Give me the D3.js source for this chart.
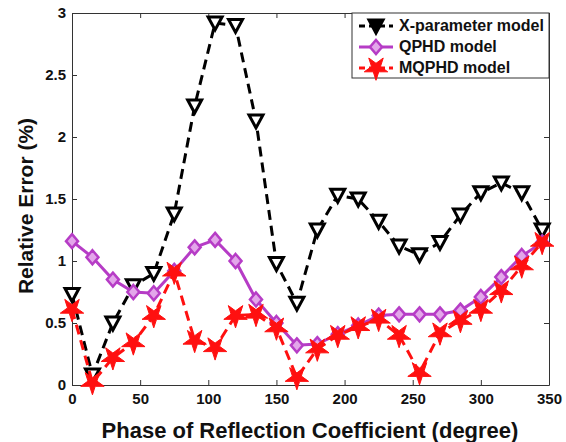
<!DOCTYPE html>
<html>
<head>
<meta charset="utf-8"/>
<script src="https://d3js.org/d3.v7.min.js"></script>
<style type="text/css">
body { margin: 0; background: #fff; }
text { font-family: Arial, "Liberation Sans", sans-serif; font-weight: bold; }
.axis path, .axis line { stroke: #333; stroke-width: 1px; }
</style>
</head>
<body>
<script>

var width = 566, height = 442;
var margin = {left: 72, right: 17, top: 13, bottom: 57};

// phase (degree)
var phase = [0, 15, 30, 45, 60, 75, 90, 105, 120, 135, 150, 165,
             180, 195, 210, 225, 240, 255, 270, 285, 300, 315, 330, 345];

var xparam = [0.73, 0.08, 0.50, 0.80, 0.90, 1.38, 2.25, 2.92, 2.90, 2.13, 0.98, 0.66,
              1.25, 1.53, 1.50, 1.32, 1.12, 1.05, 1.15, 1.37, 1.55, 1.63, 1.55, 1.25];
var qphd   = [1.16, 1.03, 0.85, 0.75, 0.74, 0.92, 1.11, 1.17, 1.00, 0.69, 0.50, 0.32,
              0.33, 0.41, 0.48, 0.56, 0.57, 0.57, 0.57, 0.60, 0.71, 0.87, 1.04, 1.15];
var mqphd  = [0.61, 0.02, 0.22, 0.34, 0.56, 0.91, 0.36, 0.30, 0.56, 0.57, 0.46, 0.06,
              0.29, 0.40, 0.47, 0.53, 0.40, 0.10, 0.42, 0.52, 0.61, 0.76, 0.96, 1.15];

var seriesNames = ["X-parameter model", "QPHD model", "MQPHD model"];
var xTicks = [0, 50, 100, 150, 200, 250, 300, 350];
var yTicks = [0, 0.5, 1, 1.5, 2, 2.5, 3];

var x = d3.scaleLinear()
    .domain([0, 350])
    .range([margin.left, width - margin.right]);

var y = d3.scaleLinear()
    .domain([0, 3])
    .range([height - margin.bottom, margin.top]);

var svg = d3.select("body").append("svg")
    .attr("width", width)
    .attr("height", height);

// axes, ticks pointing inward, box all round
svg.append("g").attr("class", "axis")
    .attr("transform", "translate(0," + y(0) + ")")
    .call(d3.axisBottom(x).tickValues(xTicks).tickSizeInner(-5).tickSizeOuter(0).tickPadding(8))
    .call(g => g.selectAll("text").attr("font-size", 15).attr("fill", "#111"));

svg.append("g").attr("class", "axis")
    .attr("transform", "translate(" + x(0) + ",0)")
    .call(d3.axisLeft(y).tickValues(yTicks).tickFormat(d3.format("")).tickSizeInner(-5).tickSizeOuter(0).tickPadding(6))
    .call(g => g.selectAll("text").attr("font-size", 15).attr("fill", "#111"));

svg.append("g").attr("class", "axis")
    .attr("transform", "translate(0," + y(3) + ")")
    .call(d3.axisTop(x).tickValues(xTicks).tickSizeInner(-5).tickSizeOuter(0).tickFormat(""));

svg.append("g").attr("class", "axis")
    .attr("transform", "translate(" + x(350) + ",0)")
    .call(d3.axisRight(y).tickValues(yTicks).tickSizeInner(-5).tickSizeOuter(0).tickFormat(""));

// axis titles
svg.append("text")
    .attr("x", 310)
    .attr("y", 438)
    .attr("text-anchor", "middle")
    .attr("font-size", 22)
    .attr("fill", "#111")
    .text("Phase of Reflection Coefficient (degree)");

svg.append("text")
    .attr("transform", "translate(33,206) rotate(-90)")
    .attr("text-anchor", "middle")
    .attr("font-size", 21)
    .attr("fill", "#111")
    .text("Relative Error (%)");

var line = d3.line()
    .x(d => x(d[0]))
    .y(d => y(d[1]));

var triangle = "M-7,-6L7,-6L0,7Z";
var diamond = "M0,-7L6,0L0,7L-6,0Z";
var star = d3.symbol().type(d3.symbolStar).size(170)();

var styles = [
  {data: xparam, color: "#000", dash: "10,6", marker: triangle, fill: "#fff", mstroke: "#000", msw: 3, rot: 0},
  {data: qphd, color: "#b63cc6", dash: null, marker: diamond, fill: "#e3a6ea", mstroke: "#b63cc6", msw: 2.5, rot: 0},
  {data: mqphd, color: "#ff1010", dash: "10,6", marker: star, fill: "#ff1010", mstroke: "#ff1010", msw: 1, rot: 180}
];

// draw the MQPHD last so its stars sit on top, like the picture
[0, 1, 2].forEach(function(i) {
  var s = styles[i];
  var pts = phase.map((p, j) => [p, s.data[j]]);
  svg.append("path")
      .datum(pts)
      .attr("fill", "none")
      .attr("stroke", s.color)
      .attr("stroke-width", 3)
      .attr("stroke-dasharray", s.dash)
      .attr("d", line);
  svg.append("g").selectAll("path")
      .data(pts)
      .enter().append("path")
      .attr("d", s.marker)
      .attr("transform", d => "translate(" + x(d[0]) + "," + y(d[1]) + ") rotate(" + s.rot + ")")
      .attr("fill", s.fill)
      .attr("stroke", s.mstroke)
      .attr("stroke-width", s.msw);
});

// legend
var lg = svg.append("g");
lg.append("rect")
    .attr("x", 352).attr("y", y(3))
    .attr("width", x(350) - 352).attr("height", 65)
    .attr("fill", "#fff").attr("stroke", "#333").attr("stroke-width", 1);

styles.forEach(function(s, i) {
  var ly = 26 + i * 21;
  lg.append("line")
      .attr("x1", 359).attr("x2", 393)
      .attr("y1", ly).attr("y2", ly)
      .attr("stroke", s.color)
      .attr("stroke-width", 3)
      .attr("stroke-dasharray", s.dash ? "6,4" : null);
  lg.append("path")
      .attr("d", s.marker)
      .attr("transform", "translate(376," + ly + ") rotate(" + s.rot + ")")
      .attr("fill", i == 0 ? "#000" : s.fill)
      .attr("stroke", s.mstroke)
      .attr("stroke-width", s.msw);
  lg.append("text")
      .attr("x", 399).attr("y", ly + 5)
      .attr("font-size", 16)
      .attr("fill", "#111")
      .text(seriesNames[i]);
});

</script>
</body>
</html>
